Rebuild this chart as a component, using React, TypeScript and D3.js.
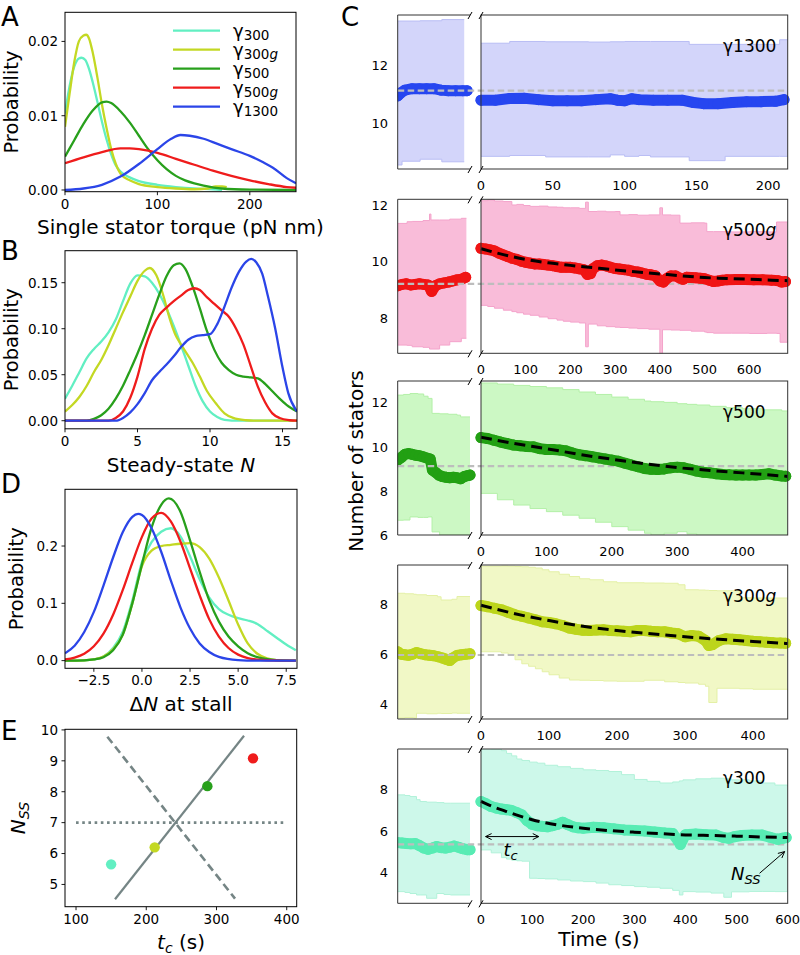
import React from "react";
import * as d3 from "d3";

type P = [number, number];
type B = [number, number, number];

const FONT = "'DejaVu Sans', Verdana, sans-serif";

// ---------- colours ----------
const COL300 = "#62efc2";
const COL300G = "#c3d823";
const COL500 = "#28a01c";
const COL500G = "#ef1c1c";
const COL1300 = "#2b45e8";

// ---------- Panel A: single stator torque KDE ----------
const torque300: P[] = [[0,0.0103],[5,0.0140],[10,0.0166],[15,0.0177],[18,0.0178],[22,0.0175],[26,0.0163],[30,0.0145],[35,0.0119],[40,0.0092],[45,0.0068],[50,0.0048],[55,0.0033],[60,0.0025],[70,0.0017],[80,0.0012],[100,0.0007],[120,0.0004],[140,0.0002],[160,0.0001],[170,0.0]];
const torque300g: P[] = [[0,0.0085],[5,0.0130],[10,0.0172],[15,0.0200],[20,0.0208],[23,0.0209],[26,0.0204],[30,0.0185],[35,0.0152],[40,0.0115],[45,0.0083],[50,0.0055],[55,0.0035],[60,0.0022],[70,0.0013],[80,0.0008],[100,0.0004],[120,0.0002],[140,0.0001],[155,0.0002],[163,0.0005],[170,0.0005],[175,0.0004]];
const torque500: P[] = [[0,0.0045],[10,0.0067],[20,0.0089],[30,0.0107],[40,0.0118],[45,0.0119],[50,0.0117],[60,0.0106],[70,0.0091],[80,0.0073],[90,0.0055],[100,0.0040],[110,0.0028],[120,0.0019],[130,0.0013],[140,0.0009],[150,0.0006],[170,0.0002],[200,0.00005],[250,0]];
const torque500g: P[] = [[0,0.0036],[20,0.0044],[40,0.0051],[60,0.0056],[70,0.0056],[80,0.0055],[90,0.0053],[100,0.0050],[120,0.0042],[140,0.0034],[160,0.0026],[180,0.0019],[200,0.0013],[220,0.0008],[240,0.0004],[250,0.0003]];
const torque1300: P[] = [[0,0.0],[20,0.0002],[40,0.0007],[60,0.0018],[80,0.0035],[100,0.0055],[115,0.0069],[125,0.0074],[135,0.0073],[150,0.0069],[165,0.0062],[180,0.0055],[200,0.0046],[215,0.0037],[225,0.0030],[240,0.0016],[250,0.0009]];

// ---------- Panel B: steady-state N KDE ----------
const nss300: P[] = [[0,0.024],[0.5,0.038],[1,0.053],[1.5,0.068],[2,0.078],[2.5,0.086],[3,0.096],[3.5,0.11],[4,0.13],[4.5,0.149],[5,0.158],[5.5,0.157],[6,0.15],[6.5,0.138],[7,0.122],[7.5,0.103],[8,0.082],[8.5,0.06],[9,0.038],[9.5,0.021],[10,0.01],[10.5,0.004],[11,0.001],[12,0],[16,0]];
const nss300g: P[] = [[0,0.01],[0.5,0.017],[1,0.026],[1.5,0.038],[2,0.053],[2.5,0.066],[3,0.082],[3.5,0.1],[4,0.118],[4.5,0.135],[5,0.152],[5.5,0.163],[5.85,0.166],[6.3,0.158],[6.8,0.135],[7.2,0.112],[7.6,0.094],[8.0,0.083],[8.4,0.073],[8.8,0.063],[9.3,0.048],[9.8,0.032],[10.4,0.019],[11,0.008],[11.6,0.003],[12.5,0.0005],[13,0],[16,0]];
const nss500: P[] = [[0,0],[1.5,0],[2,0.002],[2.5,0.006],[3,0.013],[3.5,0.024],[4,0.038],[4.5,0.055],[5,0.073],[5.5,0.093],[6,0.115],[6.5,0.137],[7,0.157],[7.5,0.169],[7.9,0.171],[8.3,0.165],[8.8,0.146],[9.3,0.122],[9.8,0.097],[10.3,0.077],[10.8,0.063],[11.3,0.055],[11.8,0.05],[12.3,0.048],[12.8,0.047],[13.3,0.046],[13.8,0.04],[14.3,0.032],[14.8,0.024],[15.3,0.017],[16,0.01]];
const nss500g: P[] = [[0,0],[3,0],[3.5,0.003],[4,0.01],[4.5,0.025],[5,0.048],[5.5,0.078],[6,0.1],[6.5,0.115],[7,0.123],[7.5,0.13],[8,0.136],[8.5,0.142],[8.9,0.144],[9.3,0.142],[9.8,0.134],[10.3,0.127],[10.8,0.12],[11.3,0.113],[11.8,0.1],[12.3,0.083],[12.8,0.06],[13.3,0.037],[13.8,0.02],[14.3,0.008],[14.8,0.003],[15.5,0.0005],[16,0]];
const nss1300: P[] = [[0,0],[3.5,0],[4,0.003],[4.5,0.009],[5,0.018],[5.5,0.03],[6,0.044],[6.5,0.053],[7,0.061],[7.5,0.07],[8,0.08],[8.5,0.088],[9,0.092],[9.5,0.093],[10,0.094],[10.5,0.105],[11,0.124],[11.5,0.145],[12,0.162],[12.5,0.173],[12.85,0.176],[13.2,0.172],[13.6,0.16],[14,0.135],[14.5,0.1],[15,0.058],[15.4,0.03],[16,0.01]];

// ---------- Panel D: delta N at stall KDE ----------
const dn300: P[] = [[-4,0],[-3,0.0005],[-2.5,0.002],[-2,0.007],[-1.5,0.022],[-1,0.05],[-0.5,0.105],[0,0.172],[0.5,0.207],[1,0.225],[1.5,0.231],[2,0.217],[2.5,0.182],[3,0.142],[3.5,0.11],[4,0.09],[4.5,0.08],[5,0.074],[5.5,0.07],[6,0.064],[6.5,0.052],[7,0.04],[7.5,0.028],[8,0.018]];
const dn300g: P[] = [[-4,0],[-3,0.0005],[-2.5,0.002],[-2,0.007],[-1.5,0.02],[-1,0.045],[-0.5,0.1],[0,0.165],[0.5,0.192],[1,0.2],[1.5,0.202],[2,0.204],[2.5,0.205],[3,0.198],[3.5,0.178],[4,0.145],[4.5,0.105],[5,0.063],[5.5,0.03],[6,0.012],[6.5,0.004],[7,0.001],[8,0]];
const dn500: P[] = [[-4,0],[-3,0.0005],[-2.5,0.002],[-2,0.006],[-1.5,0.018],[-1,0.045],[-0.5,0.1],[0,0.168],[0.5,0.232],[1,0.272],[1.4,0.283],[2,0.26],[2.5,0.21],[3,0.155],[3.5,0.105],[4,0.068],[4.5,0.042],[5,0.025],[5.5,0.013],[6,0.006],[7,0.001],[8,0]];
const dn500g: P[] = [[-4,0.002],[-3.5,0.0054],[-3,0.012],[-2.5,0.025],[-2,0.047],[-1.5,0.08],[-1,0.123],[-0.5,0.171],[0,0.216],[0.5,0.248],[1,0.258],[1.5,0.243],[2,0.208],[2.5,0.161],[3,0.114],[3.5,0.072],[4,0.042],[4.5,0.022],[5,0.0105],[5.5,0.0045],[6,0.0018],[7,0.0002],[8,0]];
const dn1300: P[] = [[-4,0.0128],[-3.5,0.026],[-3,0.05],[-2.5,0.085],[-2,0.131],[-1.5,0.18],[-1,0.224],[-0.5,0.251],[-0.2,0.256],[0,0.254],[0.5,0.231],[1,0.19],[1.5,0.14],[2,0.093],[2.5,0.056],[3,0.03],[3.5,0.015],[4,0.0065],[5,0.001],[6,0],[8,0]];

// ---------- Panel E: tc vs Nss ----------
const eTc = [150, 212, 287, 352];
const eNss = [5.65, 6.2, 8.18, 9.08];
const eColors = [COL300, COL300G, COL500, COL500G];
const eSolid: P[] = [[155.5, 4.52], [339.2, 9.81]];
const eDashed: P[] = [[144.6, 9.78], [326.4, 4.54]];
const eDotted: P[] = [[100, 7], [400, 7]];

// ---------- Panel C: stator time traces ----------
// left (pre-stall, arbitrary units 0..100): [u, lower, upper]
const band1300L: B[] = [[0,8.55,13.55],[6,8.68,13.55],[31,8.75,13.56],[61,8.66,13.6],[92,8.66,13.6]];
const pts1300L: P[] = [[0,10.95],[4,11.05],[10,11.15],[20,11.2],[30,11.2],[40,11.2],[50,11.2],[60,11.15],[70,11.13],[80,11.13],[90,11.13],[96,11.13]];
const band1300R: B[] = [[0,8.85,12.78],[20,8.88,12.84],[45,8.83,12.83],[75,8.83,12.82],[90,8.9,12.83],[100,8.85,12.84],[110,8.88,12.84],[118,8.83,12.84],[145,8.7,12.74],[170,8.85,12.74],[208,8.85,12.9],[214,8.85,12.9]];
const pts1300R: P[] = [[0,10.8],[10,10.8],[20,10.86],[30,10.87],[40,10.82],[50,10.78],[60,10.78],[70,10.78],[80,10.82],[90,10.85],[95,10.8],[100,10.78],[105,10.85],[110,10.82],[120,10.8],[130,10.8],[140,10.8],[148,10.72],[155,10.68],[165,10.68],[175,10.72],[185,10.75],[195,10.75],[205,10.76],[211,10.82]];
const nssLine1300 = 11.13;

const band500gL: B[] = [[0,7.06,11.35],[13,7.05,11.41],[20,7.0,11.42],[35,6.98,11.45],[44,6.92,11.68],[46,6.92,11.47],[58,7.06,11.47],[72,7.18,11.5],[88,7.3,11.53],[95,7.3,11.53]];
const pts500gL: P[] = [[0,9.15],[6,9.2],[12,9.22],[18,9.18],[24,9.2],[30,9.22],[36,9.2],[42,9.18],[47,8.95],[52,9.15],[58,9.22],[64,9.25],[70,9.28],[76,9.32],[82,9.36],[88,9.38],[94,9.45]];
const band500gR: B[] = [[0,8.46,12.15],[15,8.42,12.18],[30,8.36,12.14],[50,8.29,12.12],[69,8.24,12.0],[80,8.2,12.02],[95,8.15,11.98],[110,8.11,11.95],[130,8.05,11.96],[150,7.99,11.93],[170,7.94,11.92],[184,7.9,11.9],[200,7.87,11.9],[220,7.84,11.88],[234,7.0,12.1],[240,7.8,11.77],[260,7.74,11.78],[280,7.71,11.76],[300,7.69,11.77],[311,7.68,11.65],[330,7.66,11.66],[350,7.64,11.64],[375,7.62,11.65],[400,6.75,11.9],[406,7.6,11.65],[425,7.59,11.64],[445,7.58,11.36],[470,7.55,11.37],[500,7.52,11.36],[505,7.5,11.06],[520,7.48,11.06],[560,7.48,11.05],[600,7.47,11.06],[640,7.48,11.05],[661,7.47,11.4],[669,7.16,11.4],[686,7.16,11.4]];
const pts500gR: P[] = [[0,10.47],[10,10.45],[20,10.42],[30,10.38],[40,10.3],[50,10.24],[60,10.18],[70,10.12],[80,10.08],[90,10.02],[100,9.98],[110,9.95],[120,9.92],[130,9.92],[140,9.9],[150,9.88],[160,9.86],[170,9.83],[180,9.8],[190,9.8],[200,9.8],[210,9.78],[220,9.75],[230,9.72],[238,9.55],[245,9.58],[250,9.75],[260,9.86],[270,9.88],[280,9.85],[290,9.8],[300,9.76],[310,9.74],[320,9.72],[330,9.7],[340,9.66],[350,9.64],[360,9.6],[370,9.56],[380,9.54],[390,9.5],[400,9.32],[408,9.28],[415,9.4],[425,9.5],[435,9.5],[445,9.42],[452,9.38],[460,9.45],[470,9.44],[480,9.43],[490,9.42],[500,9.4],[510,9.35],[520,9.3],[530,9.32],[540,9.35],[550,9.36],[570,9.37],[590,9.37],[610,9.36],[630,9.36],[650,9.35],[665,9.33],[672,9.28],[681,9.3]];
const fit500g: P[] = [[0,10.46],[50,10.25],[100,10.08],[150,9.96],[200,9.87],[250,9.79],[300,9.71],[350,9.64],[400,9.57],[450,9.5],[500,9.44],[550,9.41],[600,9.38],[650,9.35],[686,9.33]];
const nssLine500g = 9.22;

const band500L: B[] = [[0,6.67,12.35],[8,6.68,12.38],[17,6.82,12.42],[28,6.8,12.4],[36,6.8,12.3],[42,6.82,12.2],[47.5,6.14,11.52],[58,6.0,11.5],[70,6.0,11.48],[82,6.0,11.44],[87,6.0,11.36],[100,6.0,11.36]];
const pts500L: P[] = [[0,9.4],[5,9.52],[10,9.66],[15,9.7],[20,9.66],[25,9.62],[30,9.6],[35,9.55],[40,9.5],[45,9.45],[48,8.95],[52,8.85],[57,8.72],[62,8.65],[67,8.62],[72,8.6],[77,8.62],[82,8.6],[87,8.55],[92,8.65],[97,8.7],[100,8.72]];
const band500R: B[] = [[0,7.89,12.9],[25,7.6,12.85],[50,7.36,12.79],[75,7.2,12.74],[100,7.06,12.68],[125,6.9,12.6],[150,6.76,12.49],[175,6.58,12.38],[200,6.38,12.26],[225,6.22,12.16],[250,6.08,12.08],[260,5.95,12.05],[280,6.08,12.02],[300,6.15,11.96],[315,6.05,11.93],[330,5.95,11.9],[350,5.95,11.84],[375,5.95,11.78],[400,5.95,11.73],[430,5.95,11.68],[460,5.95,11.63],[469,5.95,11.62]];
const pts500R: P[] = [[0,10.42],[10,10.38],[20,10.3],[30,10.22],[40,10.15],[50,10.08],[60,10.05],[70,10.02],[80,10.0],[90,9.92],[100,9.88],[110,9.88],[120,9.86],[130,9.82],[140,9.72],[150,9.64],[160,9.6],[170,9.55],[180,9.5],[190,9.45],[200,9.4],[210,9.35],[220,9.26],[230,9.18],[240,9.1],[250,9.02],[260,8.98],[270,8.97],[280,9.0],[290,9.05],[300,9.08],[310,9.05],[320,8.98],[330,8.9],[340,8.85],[350,8.82],[360,8.78],[370,8.75],[380,8.73],[390,8.72],[400,8.72],[410,8.72],[420,8.72],[430,8.75],[440,8.78],[450,8.72],[460,8.68],[466,8.67]];
const fit500: P[] = [[0,10.44],[50,10.16],[100,9.92],[150,9.66],[200,9.44],[250,9.24],[300,9.06],[350,8.93],[400,8.82],[469,8.66]];
const nssLine500 = 9.13;

const band300gL: B[] = [[0,3.45,8.44],[10,3.47,8.42],[22,3.45,8.4],[26,3.64,8.38],[40,3.62,8.35],[55,3.64,8.3],[60,3.63,8.17],[75,3.65,8.2],[82,3.64,8.31],[100,3.64,8.31]];
const pts300gL: P[] = [[0,6.1],[5,6.0],[10,5.98],[15,5.96],[20,6.0],[26,6.07],[32,6.02],[38,5.98],[44,5.96],[50,5.94],[56,5.9],[62,5.85],[67,5.8],[72,5.75],[76,5.85],[82,5.95],[88,5.98],[94,6.0],[100,6.02]];
const band300gR: B[] = [[0,6.1,9.52],[30,6.05,9.53],[40,5.98,9.52],[50,5.78,9.51],[60,5.62,9.5],[70,5.52,9.48],[80,5.42,9.45],[90,5.3,9.38],[100,5.18,9.3],[115,5.05,9.2],[130,4.97,9.11],[145,4.96,9.02],[160,4.95,8.98],[180,4.93,8.9],[200,4.92,8.86],[240,4.96,8.85],[270,4.9,8.84],[290,4.87,8.78],[300,4.85,8.58],[320,4.8,8.57],[330,4.72,8.56],[335,4.07,8.55],[347,4.64,8.54],[380,4.62,8.26],[400,4.6,8.25],[451,4.56,8.24]];
const pts300gR: P[] = [[0,7.95],[10,7.9],[20,7.84],[30,7.78],[40,7.68],[50,7.58],[60,7.52],[70,7.45],[80,7.38],[90,7.3],[100,7.27],[110,7.22],[120,7.15],[130,7.05],[140,7.0],[150,6.96],[160,6.95],[170,6.97],[180,6.98],[190,6.95],[200,6.94],[210,6.92],[220,6.9],[230,6.95],[240,6.95],[250,6.92],[260,6.9],[270,6.9],[280,6.85],[290,6.82],[300,6.7],[310,6.75],[320,6.72],[330,6.55],[335,6.35],[340,6.38],[350,6.55],[360,6.62],[370,6.6],[380,6.58],[390,6.55],[400,6.52],[410,6.5],[420,6.48],[430,6.46],[440,6.45],[448,6.44]];
const fit300g: P[] = [[0,7.96],[50,7.62],[100,7.35],[150,7.12],[200,6.95],[250,6.82],[300,6.7],[350,6.6],[400,6.51],[451,6.43]];
const nssLine300g = 5.97;

const band300L: B[] = [[0,3.09,7.73],[10,3.05,7.7],[17,3.0,7.65],[26,2.93,7.5],[31,2.93,7.41],[40,2.77,7.38],[54,3.0,7.36],[64,2.95,7.33],[73,2.93,7.33],[100,2.93,7.33]];
const pts300L: P[] = [[0,5.44],[6,5.42],[12,5.4],[18,5.38],[24,5.4],[30,5.3],[36,5.18],[42,5.12],[48,5.18],[54,5.25],[60,5.2],[66,5.18],[72,5.22],[78,5.28],[84,5.22],[90,5.15],[96,5.1],[100,5.1]];
const band300R: B[] = [[0,5.09,9.95],[20,4.95,9.92],[40,4.72,9.85],[50,4.65,9.72],[60,4.6,9.6],[70,4.57,9.45],[80,4.55,9.38],[95,3.73,9.3],[110,3.72,9.25],[125,3.7,9.15],[150,3.65,9.08],[175,3.6,9.0],[200,3.57,8.93],[225,3.5,8.9],[250,3.42,8.85],[275,3.38,8.7],[300,3.33,8.47],[325,3.3,8.38],[350,3.25,8.3],[375,3.15,8.35],[388,2.93,8.4],[395,3.09,8.45],[420,3.07,8.5],[450,3.02,8.53],[475,2.82,8.5],[490,3.08,8.45],[525,3.1,8.4],[550,3.1,8.3],[575,3.09,8.2],[600,3.08,8.13]];
const pts300R: P[] = [[0,7.41],[10,7.3],[20,7.17],[30,7.1],[40,7.05],[50,7.02],[60,6.98],[70,6.88],[80,6.77],[90,6.5],[100,6.32],[110,6.25],[120,6.22],[130,6.2],[140,6.25],[150,6.32],[160,6.42],[170,6.3],[180,6.2],[190,6.15],[200,6.13],[220,6.18],[240,6.15],[260,6.1],[280,6.05],[300,6.02],[320,6.0],[340,5.95],[360,5.9],[375,5.88],[385,5.55],[390,5.35],[395,5.6],[400,5.82],[420,5.85],[440,5.82],[460,5.8],[475,5.68],[485,5.65],[495,5.72],[510,5.78],[530,5.8],[550,5.8],[565,5.7],[580,5.6],[590,5.65],[597,5.68]];
const fit300: P[] = [[0,7.42],[25,7.15],[50,6.93],[75,6.72],[100,6.54],[150,6.29],[200,6.13],[250,6.02],[300,5.94],[350,5.87],[400,5.81],[450,5.78],[500,5.75],[550,5.71],[600,5.68]];
const nssLine300 = 5.36;
const tcArrow: P[] = [[9, 5.73], [113, 5.73]];
const nssArrow: P[] = [[545, 3.97], [594, 5.01]];

// ---------- layout ----------
type Fr = { x0: number; x1: number; y0: number; y1: number };
const L_X0 = 397.7, L_X1 = 470, R_X0 = 481, R_X1 = 787.7;

type Series = { data: P[]; color: string };

function KdePanel(props: {
  id: string; fr: Fr; xd: [number, number]; yd: [number, number];
  xt: number[]; yt: number[]; xf: (v: number) => string; yf: (v: number) => string;
  series: Series[];
}) {
  const { id, fr, xd, yd, xt, yt, xf, yf, series } = props;
  const x = d3.scaleLinear().domain(xd).range([fr.x0, fr.x1]);
  const y = d3.scaleLinear().domain(yd).range([fr.y1, fr.y0]);
  const line = d3.line<P>().x(d => x(d[0])).y(d => y(d[1])).curve(d3.curveMonotoneX);
  return (
    <g>
      <clipPath id={id}><rect x={fr.x0} y={fr.y0} width={fr.x1 - fr.x0} height={fr.y1 - fr.y0} /></clipPath>
      <g clipPath={`url(#${id})`}>
        {series.map((s, i) => (
          <path key={i} d={line(s.data) || ""} fill="none" stroke={s.color} strokeWidth={2.3} strokeLinejoin="round" />
        ))}
      </g>
      <rect x={fr.x0} y={fr.y0} width={fr.x1 - fr.x0} height={fr.y1 - fr.y0} fill="none" stroke="#000" strokeWidth={1} />
      {xt.map(v => (
        <g key={"x" + v}>
          <line x1={x(v)} x2={x(v)} y1={fr.y1} y2={fr.y1 + 3.5} stroke="#000" strokeWidth={0.9} />
          <text x={x(v)} y={fr.y1 + 17} textAnchor="middle" fontSize={13.5}>{xf(v)}</text>
        </g>
      ))}
      {yt.map(v => (
        <g key={"y" + v}>
          <line x1={fr.x0 - 3.5} x2={fr.x0} y1={y(v)} y2={y(v)} stroke="#000" strokeWidth={0.9} />
          <text x={fr.x0 - 7} y={y(v)} dy="0.36em" textAnchor="end" fontSize={13.5}>{yf(v)}</text>
        </g>
      ))}
    </g>
  );
}

type CDef = {
  top: number; bottom: number; ydom: [number, number]; yticks: number[]; tmax: number; xticks: number[];
  bandL: B[]; ptsL: P[]; bandR: B[]; ptsR: P[]; fit?: P[]; nss: number;
  color: string; fill: string; edge: string; label: string; labelG: boolean; labelY: number;
};

const cPanels: CDef[] = [
  { top: 15, bottom: 169, ydom: [8.41, 13.76], yticks: [10, 12], tmax: 213.6, xticks: [0, 50, 100, 150, 200],
    bandL: band1300L, ptsL: pts1300L, bandR: band1300R, ptsR: pts1300R, nss: nssLine1300,
    color: "#2646f0", fill: "#d3d5fa", edge: "#b9bdf4", label: "γ1300", labelG: false, labelY: 51.7 },
  { top: 199.3, bottom: 353.3, ydom: [6.77, 12.2], yticks: [8, 10, 12], tmax: 686, xticks: [0, 100, 200, 300, 400, 500, 600],
    bandL: band500gL, ptsL: pts500gL, bandR: band500gR, ptsR: pts500gR, fit: fit500g, nss: nssLine500g,
    color: "#f01414", fill: "#f9bcd9", edge: "#f4a3cb", label: "γ500", labelG: true, labelY: 235.7 },
  { top: 381, bottom: 535, ydom: [6.0, 12.99], yticks: [6, 8, 10, 12], tmax: 469, xticks: [0, 100, 200, 300, 400],
    bandL: band500L, ptsL: pts500L, bandR: band500R, ptsR: pts500R, fit: fit500, nss: nssLine500,
    color: "#22a013", fill: "#ccf8c4", edge: "#b3f0a7", label: "γ500", labelG: false, labelY: 417.7 },
  { top: 565, bottom: 719, ydom: [3.41, 9.57], yticks: [4, 6, 8], tmax: 451, xticks: [0, 100, 200, 300, 400],
    bandL: band300gL, ptsL: pts300gL, bandR: band300gR, ptsR: pts300gR, fit: fit300g, nss: nssLine300g,
    color: "#bcd51c", fill: "#f1f8c6", edge: "#e4f0a6", label: "γ300", labelG: true, labelY: 601.7 },
  { top: 749, bottom: 903.3, ydom: [2.53, 9.93], yticks: [4, 6, 8], tmax: 600, xticks: [0, 100, 200, 300, 400, 500, 600],
    bandL: band300L, ptsL: pts300L, bandR: band300R, ptsR: pts300R, fit: fit300, nss: nssLine300,
    color: "#58ecb4", fill: "#cdf8ea", edge: "#b1f2d9", label: "γ300", labelG: false, labelY: 784.3 },
];

function CPanel({ d, i }: { d: CDef; i: number }) {
  const y = d3.scaleLinear().domain(d.ydom).range([d.bottom, d.top]);
  const xL = d3.scaleLinear().domain([0, 100]).range([L_X0, L_X1]);
  const xR = d3.scaleLinear().domain([0, d.tmax]).range([R_X0, R_X1]);
  const areaL = d3.area<B>().x(b => xL(b[0])).y0(b => y(b[1])).y1(b => y(b[2])).curve(d3.curveStepAfter);
  const areaR = d3.area<B>().x(b => xR(b[0])).y0(b => y(b[1])).y1(b => y(b[2])).curve(d3.curveStepAfter);
  const loL = d3.line<B>().x(b => xL(b[0])).y(b => y(b[1])).curve(d3.curveStepAfter);
  const hiL = d3.line<B>().x(b => xL(b[0])).y(b => y(b[2])).curve(d3.curveStepAfter);
  const loR = d3.line<B>().x(b => xR(b[0])).y(b => y(b[1])).curve(d3.curveStepAfter);
  const hiR = d3.line<B>().x(b => xR(b[0])).y(b => y(b[2])).curve(d3.curveStepAfter);
  const pL = d3.line<P>().x(p => xL(p[0])).y(p => y(p[1]));
  const pR = d3.line<P>().x(p => xR(p[0])).y(p => y(p[1]));
  const fitL = d3.line<P>().x(p => xR(p[0])).y(p => y(p[1])).curve(d3.curveMonotoneX);
  const h = d.bottom - d.top;
  const cl = `cl${i}`, cr = `cr${i}`, cp = `cp${i}`;
  const brk = (x: number, yy: number) => `M${x - 2},${yy + 4}L${x + 2},${yy - 3}`;
  return (
    <g>
      <clipPath id={cl}><rect x={L_X0} y={d.top} width={L_X1 - L_X0} height={h} /></clipPath>
      <clipPath id={cr}><rect x={R_X0} y={d.top} width={R_X1 - R_X0} height={h} /></clipPath>
      <clipPath id={cp}><rect x={L_X0} y={d.top - 10} width={L_X1 - L_X0 + 8} height={h + 20} /></clipPath>
      <g clipPath={`url(#${cl})`}>
        <path d={areaL(d.bandL) || ""} fill={d.fill} />
        <path d={loL(d.bandL) || ""} fill="none" stroke={d.edge} strokeWidth={1} />
        <path d={hiL(d.bandL) || ""} fill="none" stroke={d.edge} strokeWidth={1} />
      </g>
      <g clipPath={`url(#${cr})`}>
        <path d={areaR(d.bandR) || ""} fill={d.fill} />
        <path d={loR(d.bandR) || ""} fill="none" stroke={d.edge} strokeWidth={1} />
        <path d={hiR(d.bandR) || ""} fill="none" stroke={d.edge} strokeWidth={1} />
      </g>
      <g clipPath={`url(#${cp})`}>
        <path d={pL(d.ptsL) || ""} fill="none" stroke={d.color} strokeWidth={11} strokeLinejoin="round" strokeLinecap="round" />
        {d.ptsL.map((p, k) => <circle key={k} cx={xL(p[0])} cy={y(p[1])} r={5.5} fill={d.color} />)}
      </g>
      <line x1={L_X0} x2={R_X1} y1={y(d.nss)} y2={y(d.nss)} stroke="#bdbdbd" strokeWidth={2.2} strokeDasharray="6.5,3.5" />
      <path d={pR(d.ptsR) || ""} fill="none" stroke={d.color} strokeWidth={11} strokeLinejoin="round" strokeLinecap="round" />
      {d.ptsR.map((p, k) => <circle key={k} cx={xR(p[0])} cy={y(p[1])} r={5.5} fill={d.color} />)}
      {d.fit && <path d={fitL(d.fit) || ""} fill="none" stroke="#000" strokeWidth={3} strokeDasharray="11,6" />}
      <path d={`M${L_X1},${d.top}H${L_X0}V${d.bottom}H${L_X1}`} fill="none" stroke="#333" strokeWidth={1} />
      <rect x={R_X0} y={d.top} width={R_X1 - R_X0} height={h} fill="none" stroke="#333" strokeWidth={1} />
      <path d={brk(L_X1, d.top) + brk(L_X1, d.bottom) + brk(R_X0, d.top) + brk(R_X0, d.bottom)} stroke="#000" strokeWidth={1} fill="none" />
      {d.yticks.map(v => (
        <text key={v} x={388} y={y(v)} dy="0.36em" textAnchor="end" fontSize={13}>{v}</text>
      ))}
      {d.xticks.map(v => (
        <text key={v} x={xR(v)} y={d.bottom + 20.5} textAnchor="middle" fontSize={13}>{v}</text>
      ))}
      <text x={723} y={d.labelY} fontSize={17}>
        {d.label}{d.labelG && <tspan fontStyle="italic">g</tspan>}
      </text>
      {i === 4 && (
        <g>
          <line x1={xR(tcArrow[0][0])} x2={xR(tcArrow[1][0])} y1={y(tcArrow[0][1])} y2={y(tcArrow[1][1])} stroke="#000" strokeWidth={1} />
          <path d={`M${xR(tcArrow[0][0]) + 6},${y(tcArrow[0][1]) - 3}L${xR(tcArrow[0][0])},${y(tcArrow[0][1])}L${xR(tcArrow[0][0]) + 6},${y(tcArrow[0][1]) + 3}`} fill="none" stroke="#000" strokeWidth={1} />
          <path d={`M${xR(tcArrow[1][0]) - 6},${y(tcArrow[1][1]) - 3}L${xR(tcArrow[1][0])},${y(tcArrow[1][1])}L${xR(tcArrow[1][0]) - 6},${y(tcArrow[1][1]) + 3}`} fill="none" stroke="#000" strokeWidth={1} />
          <text x={xR(44)} y={y(4.8)} fontSize={18} fontStyle="italic">t<tspan fontSize={13} dy={4}>c</tspan></text>
          <text x={xR(489)} y={y(3.65)} fontSize={18} fontStyle="italic">N<tspan fontSize={13} dy={4}>SS</tspan></text>
          <line x1={xR(nssArrow[0][0])} y1={y(nssArrow[0][1])} x2={xR(nssArrow[1][0])} y2={y(nssArrow[1][1])} stroke="#000" strokeWidth={1} />
          {(() => {
            const x2 = xR(nssArrow[1][0]), y2 = y(nssArrow[1][1]);
            const ang = Math.atan2(y2 - y(nssArrow[0][1]), x2 - xR(nssArrow[0][0]));
            const a1 = ang + Math.PI - 0.45, a2 = ang + Math.PI + 0.45;
            return <path d={`M${x2 + 7 * Math.cos(a1)},${y2 + 7 * Math.sin(a1)}L${x2},${y2}L${x2 + 7 * Math.cos(a2)},${y2 + 7 * Math.sin(a2)}`} fill="none" stroke="#000" strokeWidth={1} />;
          })()}
        </g>
      )}
    </g>
  );
}

function PanelE() {
  const fr: Fr = { x0: 65, x1: 296.7, y0: 729.3, y1: 906.7 };
  const x = d3.scaleLinear().domain([84.3, 414.2]).range([fr.x0, fr.x1]);
  const y = d3.scaleLinear().domain([4.28, 10.02]).range([fr.y1, fr.y0]);
  const ln = d3.line<P>().x(p => x(p[0])).y(p => y(p[1]));
  const grey = "#758585";
  return (
    <g>
      <path d={ln(eDashed) || ""} stroke={grey} strokeWidth={2.6} strokeDasharray="8,4.5" fill="none" />
      <path d={ln(eSolid) || ""} stroke={grey} strokeWidth={2.2} fill="none" />
      <path d={ln(eDotted) || ""} stroke={grey} strokeWidth={2.6} strokeDasharray="2.6,3.6" fill="none" />
      {eTc.map((t, k) => <circle key={k} cx={x(t)} cy={y(eNss[k])} r={5.2} fill={eColors[k]} />)}
      <rect x={fr.x0} y={fr.y0} width={fr.x1 - fr.x0} height={fr.y1 - fr.y0} fill="none" stroke="#000" strokeWidth={1} />
      {[100, 200, 300, 400].map(v => (
        <g key={v}>
          <line x1={x(v)} x2={x(v)} y1={fr.y1} y2={fr.y1 + 3.5} stroke="#000" strokeWidth={0.9} />
          <text x={x(v)} y={fr.y1 + 17} textAnchor="middle" fontSize={13.5}>{v}</text>
        </g>
      ))}
      {[5, 6, 7, 8, 9, 10].map(v => (
        <g key={v}>
          <line x1={fr.x0 - 3.5} x2={fr.x0} y1={y(v)} y2={y(v)} stroke="#000" strokeWidth={0.9} />
          <text x={fr.x0 - 7} y={y(v)} dy="0.36em" textAnchor="end" fontSize={13.5}>{v}</text>
        </g>
      ))}
      <text x={181} y={949} textAnchor="middle" fontSize={20}>
        <tspan fontStyle="italic">t</tspan><tspan fontStyle="italic" fontSize={14} dy={4}>c</tspan><tspan dy={-4}> (s)</tspan>
      </text>
      <text transform={`translate(25,${(fr.y0 + fr.y1) / 2}) rotate(-90)`} textAnchor="middle" fontSize={20}>
        <tspan fontStyle="italic">N</tspan><tspan fontStyle="italic" fontSize={14} dy={4}>SS</tspan>
      </text>
    </g>
  );
}

const legendItems = [
  { color: COL300, sub: "300", g: false },
  { color: COL300G, sub: "300", g: true },
  { color: COL500, sub: "500", g: false },
  { color: COL500G, sub: "500", g: true },
  { color: COL1300, sub: "1300", g: false },
];

export default function App() {
  const frA: Fr = { x0: 65, x1: 296, y0: 12.3, y1: 191.7 };
  const frB: Fr = { x0: 65, x1: 297, y0: 250.7, y1: 428.8 };
  const frD: Fr = { x0: 65, x1: 297, y0: 489.3, y1: 668.3 };
  const f2 = d3.format(".2f");
  const f1 = d3.format(".1f");
  const f0 = d3.format("d");
  return (
    <svg width={800} height={955} viewBox="0 0 800 955" fontFamily={FONT}
      style={{ position: "absolute", left: 0, top: 0, background: "#fff" }}>
      <rect width={800} height={955} fill="#fff" />
      {/* Panel A */}
      <KdePanel id="clipA" fr={frA} xd={[0, 250]} yd={[-0.00023, 0.02392]} xt={[0, 100, 200]} yt={[0, 0.01, 0.02]}
        xf={f0} yf={f2}
        series={[{ data: torque300, color: COL300 }, { data: torque300g, color: COL300G }, { data: torque500, color: COL500 }, { data: torque500g, color: COL500G }, { data: torque1300, color: COL1300 }]} />
      {legendItems.map((it, k) => {
        const ly = 30.7 + k * 19;
        return (
          <g key={k}>
            <line x1={173} x2={220} y1={ly} y2={ly} stroke={it.color} strokeWidth={2.3} />
            <text x={233} y={ly + 6} fontSize={18}>
              γ<tspan fontSize={13.5} dy={3.5}>{it.sub}{it.g && <tspan fontStyle="italic">g</tspan>}</tspan>
            </text>
          </g>
        );
      })}
      <text x={180.5} y={234} textAnchor="middle" fontSize={20}>Single stator torque (pN nm)</text>
      <text transform={`translate(18,${(frA.y0 + frA.y1) / 2}) rotate(-90)`} textAnchor="middle" fontSize={19.5}>Probability</text>
      <text x={1} y={25.5} fontSize={26}>A</text>

      {/* Panel B */}
      <KdePanel id="clipB" fr={frB} xd={[0, 16]} yd={[-0.0088, 0.1848]} xt={[0, 5, 10, 15]} yt={[0, 0.05, 0.1, 0.15]}
        xf={f0} yf={f2}
        series={[{ data: nss300, color: COL300 }, { data: nss300g, color: COL300G }, { data: nss500, color: COL500 }, { data: nss500g, color: COL500G }, { data: nss1300, color: COL1300 }]} />
      <text x={181} y={471.5} textAnchor="middle" fontSize={20}>Steady-state <tspan fontStyle="italic">N</tspan></text>
      <text transform={`translate(18,${(frB.y0 + frB.y1) / 2}) rotate(-90)`} textAnchor="middle" fontSize={19.5}>Probability</text>
      <text x={1} y={260} fontSize={26}>B</text>

      {/* Panel D */}
      <KdePanel id="clipD" fr={frD} xd={[-4, 8.06]} yd={[-0.0134, 0.299]} xt={[-2.5, 0, 2.5, 5, 7.5]} yt={[0, 0.1, 0.2]}
        xf={f1} yf={f1}
        series={[{ data: dn300, color: COL300 }, { data: dn300g, color: COL300G }, { data: dn500, color: COL500 }, { data: dn500g, color: COL500G }, { data: dn1300, color: COL1300 }]} />
      <text x={181} y={711} textAnchor="middle" fontSize={20}>Δ<tspan fontStyle="italic">N</tspan> at stall</text>
      <text transform={`translate(23,${(frD.y0 + frD.y1) / 2}) rotate(-90)`} textAnchor="middle" fontSize={19.5}>Probability</text>
      <text x={1} y={493} fontSize={26}>D</text>

      {/* Panel E */}
      <PanelE />
      <text x={1} y={740} fontSize={26}>E</text>

      {/* Panel C */}
      {cPanels.map((d, i) => <CPanel key={i} d={d} i={i} />)}
      <text x={341} y={25.5} fontSize={26}>C</text>
      <text transform="translate(363,461) rotate(-90)" textAnchor="middle" fontSize={20}>Number of stators</text>
      <text x={599} y={946} textAnchor="middle" fontSize={20}>Time (s)</text>
    </svg>
  );
}
